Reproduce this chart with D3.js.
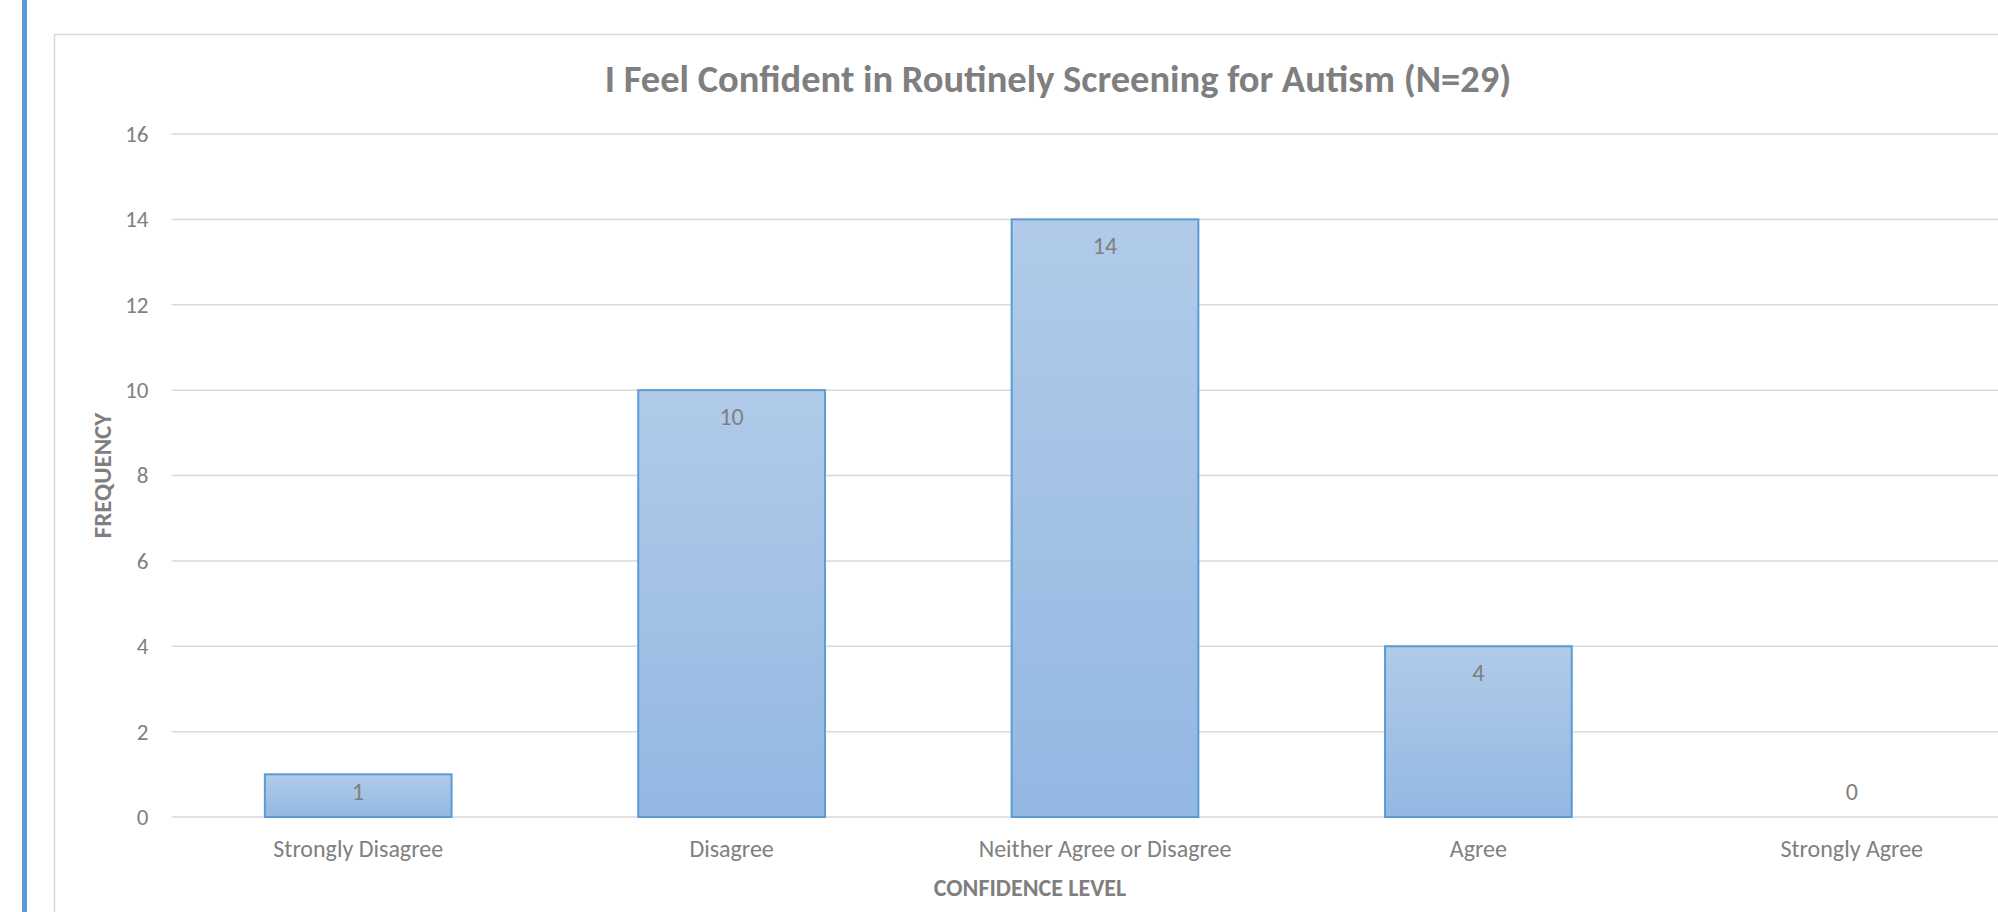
<!DOCTYPE html>
<html>
<head>
<meta charset="utf-8">
<script src="https://cdn.jsdelivr.net/npm/d3@7"></script>
<style>
  body { margin: 0; background: #fff; overflow: hidden; }
  text { font-family: Carlito, Lato, "Open Sans", sans-serif; }
</style>
</head>
<body>
<div id="chart"></div>
<script>
// chart data
let categories = ['Strongly Disagree', 'Disagree', 'Neither Agree or Disagree', 'Agree', 'Strongly Agree'];
let frequency = [1, 10, 14, 4, 0];
let yTicks = [0, 2, 4, 6, 8, 10, 12, 14, 16];
let chartTitle = 'I Feel Confident in Routinely Screening for Autism (N=29)';
let xTitle = 'CONFIDENCE LEVEL';
let yTitle = 'FREQUENCY';

// svg definitions
let svgWidth = 1998;
let svgHeight = 912;

// plot area (runs past the right edge, like the cropped original)
let margin = { top: 134, left: 171.5, bottom: 95 };
let plotRight = 2038.5;
let height = svgHeight - margin.top - margin.bottom;

let svg = d3.select('#chart').append('svg')
  .attr('width', svgWidth)
  .attr('height', svgHeight);

// gradient for the bars
let grad = svg.append('defs').append('linearGradient')
  .attr('id', 'barFill')
  .attr('x1', 0).attr('y1', 0).attr('x2', 0).attr('y2', 1);
grad.append('stop').attr('offset', '0%').attr('stop-color', '#b1cbe9');
grad.append('stop').attr('offset', '100%').attr('stop-color', '#93b8e2');

// blue page stripe on the left
svg.append('rect')
  .attr('x', 22).attr('y', 0)
  .attr('width', 5).attr('height', svgHeight)
  .attr('fill', '#5b9bd5');

// chart area border
svg.append('path')
  .attr('d', `M54.5,${svgHeight} V34.5 H${svgWidth}`)
  .attr('fill', 'none')
  .attr('stroke', '#d9d9d9')
  .attr('stroke-width', 1.5);

// scales
let xBand = d3.scaleBand()
  .domain(categories)
  .range([margin.left, plotRight])
  .paddingInner(0.5)
  .paddingOuter(0.25);

let yLin = d3.scaleLinear()
  .domain([0, 16])
  .range([margin.top + height, margin.top]);

// gridlines
svg.append('g')
  .selectAll('line')
  .data(yTicks)
  .enter()
  .append('line')
  .attr('x1', margin.left)
  .attr('x2', plotRight)
  .attr('y1', d => yLin(d))
  .attr('y2', d => yLin(d))
  .attr('stroke', '#d9d9d9')
  .attr('stroke-width', 1.5);

// y axis
let leftAxis = d3.axisLeft(yLin).tickValues(yTicks).tickSize(0).tickPadding(23);
let yAxis = svg.append('g')
  .attr('transform', `translate(${margin.left}, 0)`)
  .call(leftAxis);
yAxis.select('.domain').remove();
yAxis.selectAll('text')
  .attr('fill', '#808080')
  .attr('font-size', '23px')
  .style('font-family', 'Carlito, Lato, sans-serif');

// x axis
let bottomAxis = d3.axisBottom(xBand).tickSize(0).tickPadding(23);
let xAxis = svg.append('g')
  .attr('transform', `translate(0, ${yLin(0)})`)
  .call(bottomAxis);
xAxis.select('.domain').remove();
xAxis.selectAll('text')
  .attr('fill', '#808080')
  .attr('font-size', '24px')
  .style('font-family', 'Carlito, Lato, sans-serif');

// bars
svg.selectAll('.bar')
  .data(frequency)
  .enter()
  .append('rect')
  .classed('bar', true)
  .attr('x', (d, i) => xBand(categories[i]))
  .attr('y', d => yLin(d))
  .attr('width', xBand.bandwidth())
  .attr('height', d => yLin(0) - yLin(d))
  .attr('fill', 'url(#barFill)')
  .attr('stroke', d => d > 0 ? '#5b9bd5' : 'none')
  .attr('stroke-width', 2);

// data labels (inside end, kept above the base for short bars)
svg.selectAll('.barLabel')
  .data(frequency)
  .enter()
  .append('text')
  .classed('barLabel', true)
  .attr('x', (d, i) => xBand(categories[i]) + xBand.bandwidth() / 2)
  .attr('y', d => Math.min(yLin(d) + 35, yLin(0) - 17))
  .attr('text-anchor', 'middle')
  .attr('font-size', '24px')
  .attr('fill', '#808080')
  .text(d => d);

// chart title
svg.append('text')
  .attr('x', 1058)
  .attr('y', 92)
  .attr('text-anchor', 'middle')
  .attr('font-size', '38.5px')
  .attr('font-weight', 'bold')
  .attr('fill', '#7f7f7f')
  .text(chartTitle);

// axis titles
svg.append('text')
  .attr('x', 1030)
  .attr('y', 896)
  .attr('text-anchor', 'middle')
  .attr('font-size', '24px')
  .attr('font-weight', 'bold')
  .attr('fill', '#7f7f7f')
  .text(xTitle);

svg.append('text')
  .attr('transform', `translate(111, ${yLin(8)}) rotate(-90)`)
  .attr('text-anchor', 'middle')
  .attr('font-size', '25px')
  .attr('font-weight', 'bold')
  .attr('fill', '#7f7f7f')
  .text(yTitle);
</script>
</body>
</html>
